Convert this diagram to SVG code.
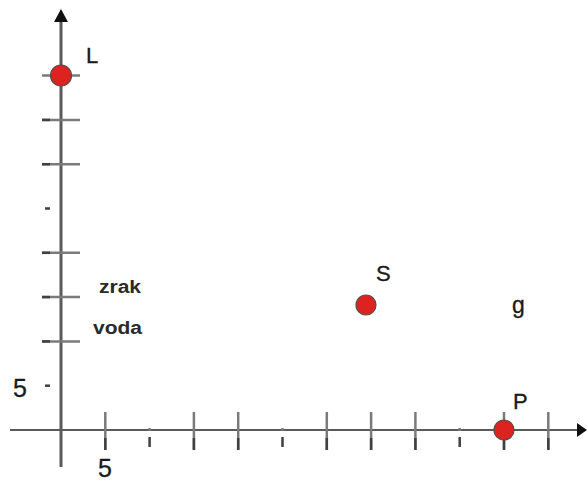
<svg xmlns="http://www.w3.org/2000/svg" width="587" height="482" viewBox="0 0 587 482">
<style>
.ax{stroke:#5a5a5a;fill:none}
.tk{stroke:#7a7a7a;stroke-width:2.5}
.tkd{stroke:#404040;stroke-width:2.5}
.dot{fill:#dc2320;stroke:#5a4a4a;stroke-width:1.2}
.lb{font-family:"Liberation Sans",Arial,sans-serif;fill:#1a1a1a;stroke:#1a1a1a;stroke-width:0.3}
.bd{font-family:"Liberation Sans",Arial,sans-serif;font-weight:bold;fill:#2a2a2a}
</style>
<rect width="587" height="482" fill="#fff"/>
<g id="axes">
<line class="ax" x1="61" y1="18" x2="61" y2="467" stroke-width="3"/>
<line class="ax" x1="10" y1="430" x2="580" y2="430" stroke-width="2" stroke="#6a6a6a"/>
<polygon points="61,9 54,22 68,22" fill="#111"/>
<polygon points="587,430 577,423 577,437" fill="#111"/>
</g>
<g id="yticks">
<line class="tk" x1="42" y1="75.6" x2="80" y2="75.6"/>
<line class="tk" x1="42" y1="119.9" x2="80" y2="119.9"/>
<line class="tk" x1="42" y1="164.2" x2="80" y2="164.2"/>
<line class="tk" x1="42" y1="252.8" x2="80" y2="252.8"/>
<line class="tk" x1="42" y1="297.1" x2="80" y2="297.1"/>
<line class="tk" x1="42" y1="341.4" x2="80" y2="341.4"/>
<line class="tkd" x1="42" y1="119.9" x2="50" y2="119.9"/>
<line class="tkd" x1="42" y1="164.2" x2="50" y2="164.2"/>
<line class="tkd" x1="42" y1="252.8" x2="50" y2="252.8"/>
<line class="tkd" x1="42" y1="297.1" x2="50" y2="297.1"/>
<line class="tkd" x1="42" y1="341.4" x2="50" y2="341.4"/>
<line class="tkd" x1="45" y1="208.5" x2="50" y2="208.5"/>
<line class="tkd" x1="45" y1="385.7" x2="50" y2="385.7"/>
</g>
<g id="xticks">
<line class="tk" x1="105.3" y1="412" x2="105.3" y2="450"/>
<line class="tk" x1="193.9" y1="412" x2="193.9" y2="450"/>
<line class="tk" x1="238.2" y1="412" x2="238.2" y2="450"/>
<line class="tk" x1="326.8" y1="412" x2="326.8" y2="450"/>
<line class="tk" x1="371.1" y1="412" x2="371.1" y2="450"/>
<line class="tk" x1="415.4" y1="412" x2="415.4" y2="450"/>
<line class="tk" x1="504" y1="412" x2="504" y2="450"/>
<line class="tk" x1="548.3" y1="412" x2="548.3" y2="450"/>
<line class="tkd" x1="105.3" y1="438" x2="105.3" y2="450"/>
<line class="tkd" x1="193.9" y1="438" x2="193.9" y2="450"/>
<line class="tkd" x1="238.2" y1="438" x2="238.2" y2="450"/>
<line class="tkd" x1="326.8" y1="438" x2="326.8" y2="450"/>
<line class="tkd" x1="371.1" y1="438" x2="371.1" y2="450"/>
<line class="tkd" x1="415.4" y1="438" x2="415.4" y2="450"/>
<line class="tkd" x1="504" y1="438" x2="504" y2="450"/>
<line class="tkd" x1="548.3" y1="438" x2="548.3" y2="450"/>
<line class="tkd" x1="149.6" y1="437" x2="149.6" y2="447"/>
<line class="tkd" x1="282.5" y1="437" x2="282.5" y2="447"/>
<line class="tkd" x1="459.7" y1="437" x2="459.7" y2="447"/>
<line class="tk" x1="149.6" y1="428" x2="149.6" y2="431"/>
<line class="tk" x1="282.5" y1="428" x2="282.5" y2="431"/>
<line class="tk" x1="459.7" y1="428" x2="459.7" y2="431"/>
</g>
<g id="L">
<circle class="dot" cx="61" cy="75.5" r="10.5"/>
<text class="lb" x="86" y="63" font-size="22">L</text>
</g>
<g id="S">
<circle class="dot" cx="366" cy="305" r="10"/>
<text class="lb" x="376" y="281" font-size="22">S</text>
</g>
<g id="P">
<circle class="dot" cx="504" cy="430" r="10"/>
<text class="lb" x="513" y="409" font-size="22">P</text>
</g>
<g id="labels">
<text class="lb" x="512" y="313" font-size="23">g</text>
<text class="bd" x="99" y="293" font-size="18" textLength="42" lengthAdjust="spacingAndGlyphs">zrak</text>
<text class="bd" x="93" y="334" font-size="18" textLength="49" lengthAdjust="spacingAndGlyphs">voda</text>
<text class="lb" x="13" y="397" font-size="25">5</text>
<text class="lb" x="98" y="477" font-size="25">5</text>
</g>
</svg>
